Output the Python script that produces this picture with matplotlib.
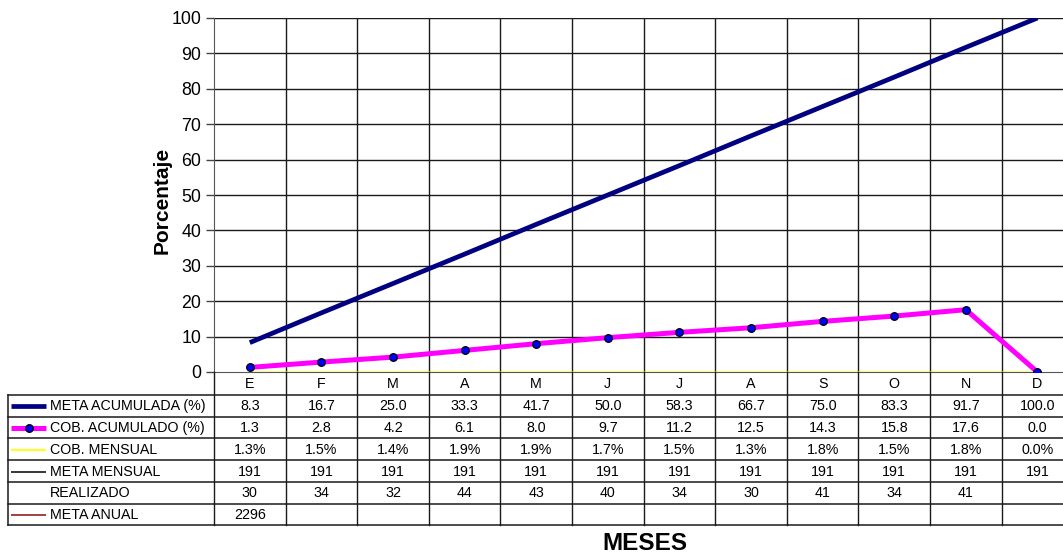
import matplotlib
matplotlib.use("Agg")
import matplotlib.pyplot as plt
from matplotlib.lines import Line2D

plt.rcParams['font.family'] = ['Liberation Sans', 'DejaVu Sans']

meses = ["E", "F", "M", "A", "M", "J", "J", "A", "S", "O", "N", "D"]
meta_acumulada = [8.3, 16.7, 25.0, 33.3, 41.7, 50.0, 58.3, 66.7, 75.0, 83.3, 91.7, 100.0]
cob_acumulado = [1.3, 2.8, 4.2, 6.1, 8.0, 9.7, 11.2, 12.5, 14.3, 15.8, 17.6, 0.0]
cob_mensual = [1.3, 1.5, 1.4, 1.9, 1.9, 1.7, 1.5, 1.3, 1.8, 1.5, 1.8, 0.0]  # percent
meta_mensual = [191] * 12
realizado = [30, 34, 32, 44, 43, 40, 34, 30, 41, 34, 41, None]
meta_anual = [2296] + [None] * 11

W, H = 1063, 556
fig = plt.figure(figsize=(W / 100, H / 100), dpi=100)

# pixel geometry of plot area
px_left, px_top, px_bottom = 214, 18, 372
col_w = 71.6
n = len(meses)
px_right = px_left + col_w * n

ax = fig.add_axes([px_left / W, 1 - px_bottom / H, (px_right - px_left) / W, (px_bottom - px_top) / H])
x = list(range(n))
ax.set_xlim(-0.5, n - 0.5)
ax.set_ylim(0, 100)
ax.set_yticks(range(0, 101, 10))
ax.tick_params(axis='y', labelsize=12.8, length=6, width=1, color='#444444', pad=3)
ax.set_xticks([])
for s in ['top', 'right']:
    ax.spines[s].set_visible(False)
ax.spines['left'].set_color('#555555')
ax.spines['bottom'].set_color('#555555')

grid_c = '#1a1a1a'
for yv in range(10, 101, 10):
    ax.axhline(yv, color=grid_c, lw=1.0, zorder=1)
for i in range(1, n + 1):
    ax.axvline(i - 0.5, color=grid_c, lw=1.0, zorder=1)

ax.plot(x, meta_acumulada, color='#000080', lw=3.4, zorder=4, solid_capstyle='butt')
ax.plot(x, cob_acumulado, color='#FF00FF', lw=3.6, zorder=4, marker='o', markersize=5.5,
        markerfacecolor='#0000FF', markeredgecolor='black', markeredgewidth=0.9)
ax.plot(x, [v / 100 for v in cob_mensual], color='#FFFF00', lw=1.0, zorder=3, alpha=0.7)

ax.set_ylabel("Porcentaje", fontsize=15, fontweight='bold', va='center')
ax.yaxis.set_label_coords((162 - px_left) / (px_right - px_left), (px_bottom - 200) / (px_bottom - px_top))

# data table below the chart
tbl_left = 8
x0 = -0.5 - (px_left - tbl_left) / col_w
tab_top, tab_bot = px_bottom, 525
tax = fig.add_axes([tbl_left / W, 1 - tab_bot / H, (px_right - tbl_left) / W, (tab_bot - tab_top) / H])
tax.set_xlim(x0, n - 0.5)
tax.set_ylim(tab_bot, tab_top)
tax.axis('off')

row_edges = [395, 416.5, 438, 460, 482, 503.5, 525]
line_c = '#1a1a1a'
for yv in row_edges:
    tax.plot([x0, n - 0.5], [yv, yv], color=line_c, lw=1.1, clip_on=False)
tax.plot([x0, x0], [row_edges[0], tab_bot], color=line_c, lw=1.1, clip_on=False)
for i in range(n + 1):
    tax.plot([i - 0.5, i - 0.5], [tab_top, tab_bot], color=line_c, lw=1.0, clip_on=False)

fs = 10.3
for i, m in enumerate(meses):
    tax.text(i, (tab_top + row_edges[0]) / 2 + 0.5, m, ha='center', va='center', fontsize=fs)

rows = [
    ("META ACUMULADA (%)", [f"{v:.1f}" for v in meta_acumulada],
     dict(color='#000080', lw=3.4)),
    ("COB. ACUMULADO (%)", [f"{v:.1f}" for v in cob_acumulado],
     dict(color='#FF00FF', lw=3.6, marker='o', markersize=5.5, markerfacecolor='#0000FF',
          markeredgecolor='black', markeredgewidth=0.9, markevery=[1])),
    ("COB. MENSUAL", [f"{v:.1f}%" for v in cob_mensual],
     dict(color='#FFFF00', lw=1.3)),
    ("META MENSUAL", [str(v) for v in meta_mensual],
     dict(color='black', lw=1.1)),
    ("REALIZADO", ["" if v is None else str(v) for v in realizado], None),
    ("META ANUAL", ["" if v is None else str(v) for v in meta_anual],
     dict(color='#993333', lw=1.3)),
]

key_a = x0 + 3 / col_w
key_m = x0 + 21 / col_w
key_b = x0 + 38 / col_w
text_x = x0 + 42 / col_w
for r, (label, vals, style) in enumerate(rows):
    yc = (row_edges[r] + row_edges[r + 1]) / 2 + 0.5
    if style is not None:
        tax.add_line(Line2D([key_a, key_m, key_b], [yc, yc, yc], solid_capstyle='butt', **style))
    tax.text(text_x, yc, label, ha='left', va='center', fontsize=fs)
    for i, v in enumerate(vals):
        tax.text(i, yc, v, ha='center', va='center', fontsize=fs)

fig.text(645 / W, 1 - 544 / H, "MESES", ha='center', va='center', fontsize=17.5, fontweight='bold')

fig.savefig("out.png", dpi=100)
